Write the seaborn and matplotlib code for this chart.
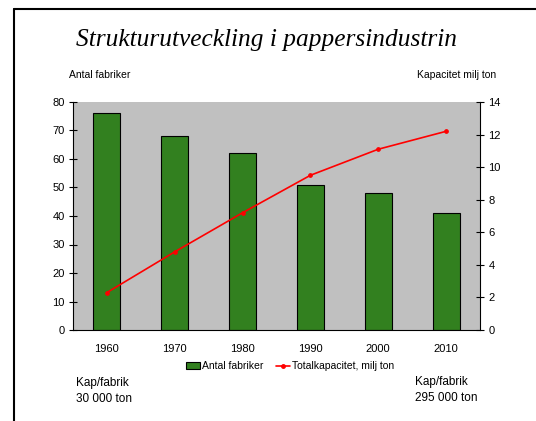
import matplotlib
matplotlib.use("Agg")
import matplotlib.pyplot as plt
import seaborn as sns
import pandas as pd
from matplotlib.patches import Rectangle
from matplotlib.lines import Line2D

years = ["1960", "1970", "1980", "1990", "2000", "2010"]
fabriker = [76, 68, 62, 51, 48, 41]
kapacitet = [2.3, 4.8, 7.2, 9.5, 11.1, 12.2]

sns.set_theme(style="white")
plt.rcParams['font.family'] = ['Liberation Sans', 'DejaVu Sans']
plt.rcParams['text.color'] = 'black'
plt.rcParams['xtick.color'] = 'black'
plt.rcParams['ytick.color'] = 'black'
plt.rcParams['axes.labelcolor'] = 'black'

df = pd.DataFrame({"year": years, "fabriker": fabriker, "kapacitet": kapacitet})

fig = plt.figure(figsize=(5.36, 4.21), dpi=100)
ax = fig.add_axes([73/536, 1-330/421, (480-73)/536, (330-102)/421])
ax.set_facecolor("#c0c0c0")

green = "#32801f"
sns.barplot(data=df, x="year", y="fabriker", color=green, width=0.4,
            edgecolor="black", linewidth=0.8, saturation=1, ax=ax)
ax.set_ylim(0, 80)
ax.set_yticks(range(0, 81, 10))
ax.set_xlim(-0.5, 5.5)
ax.set_xlabel("")
ax.set_ylabel("")
ax.set_xticks([i for i in range(6)])
ax.set_xticklabels(years)
ax.tick_params(axis="x", length=0, labelsize=8, pad=10)
ax.set_xticks([i - 0.5 for i in range(7)], minor=True)
ax.tick_params(axis="x", which="minor", length=6, direction="inout", width=0.8, color="black")
ax.tick_params(axis="y", length=6, direction="inout", width=0.8, labelsize=8, color="black", left=True, pad=3)
for s in ["top", "right"]:
    ax.spines[s].set_visible(False)
for s in ["left", "bottom"]:
    ax.spines[s].set_color("black")
    ax.spines[s].set_linewidth(0.8)

ax2 = ax.twinx()
sns.pointplot(data=df, x="year", y="kapacitet", color="red", markers="o",
              linewidth=1.2, markersize=2.5, ax=ax2)
ax2.set_ylim(0, 14)
ax2.set_yticks(range(0, 15, 2))
ax2.set_xlim(-0.5, 5.5)
ax2.set_ylabel("")
ax2.set_xlabel("")
ax2.tick_params(axis="y", length=6, direction="inout", width=0.8, labelsize=8, color="black", right=True, pad=3)
for s in ["top", "left", "bottom"]:
    ax2.spines[s].set_visible(False)
ax2.spines["right"].set_visible(True)
ax2.spines["right"].set_color("black")
ax2.spines["right"].set_linewidth(0.8)

fig.text(267/536, 1-40/421, "Strukturutveckling i pappersindustrin",
         ha="center", va="center", fontsize=18.3, style="italic",
         family=["Liberation Serif"], color="black")
fig.text(100/536, 1-75/421, "Antal fabriker", ha="center", va="center", fontsize=7.5)
fig.text(457/536, 1-75/421, "Kapacitet milj ton", ha="center", va="center", fontsize=7.5)

handles = [Rectangle((0, 0), 1, 1, facecolor=green, edgecolor="black", linewidth=0.8),
           Line2D([0], [0], color="red", marker="o", markersize=2.5, linewidth=1.2)]
fig.legend(handles, ["Antal fabriker", "Totalkapacitet, milj ton"],
           loc="center", bbox_to_anchor=(290/536, 1-366/421), ncol=2, frameon=False,
           fontsize=7.5, handlelength=1.4, handletextpad=0.15, columnspacing=1.2,
           handleheight=0.6)

fig.text(76/536, 1-391/421, "Kap/fabrik\n30 000 ton", ha="left", va="center", fontsize=8.5, linespacing=1.35)
fig.text(415/536, 1-390/421, "Kap/fabrik\n295 000 ton", ha="left", va="center", fontsize=8.5, linespacing=1.35)

# frame (left and top lines)
fig.add_artist(Line2D([14/536, 14/536], [0, 1-9/421], color="black", linewidth=1.5, transform=fig.transFigure))
fig.add_artist(Line2D([14/536, 1], [1-9/421, 1-9/421], color="black", linewidth=1.5, transform=fig.transFigure))

fig.savefig("out.png", dpi=100)
